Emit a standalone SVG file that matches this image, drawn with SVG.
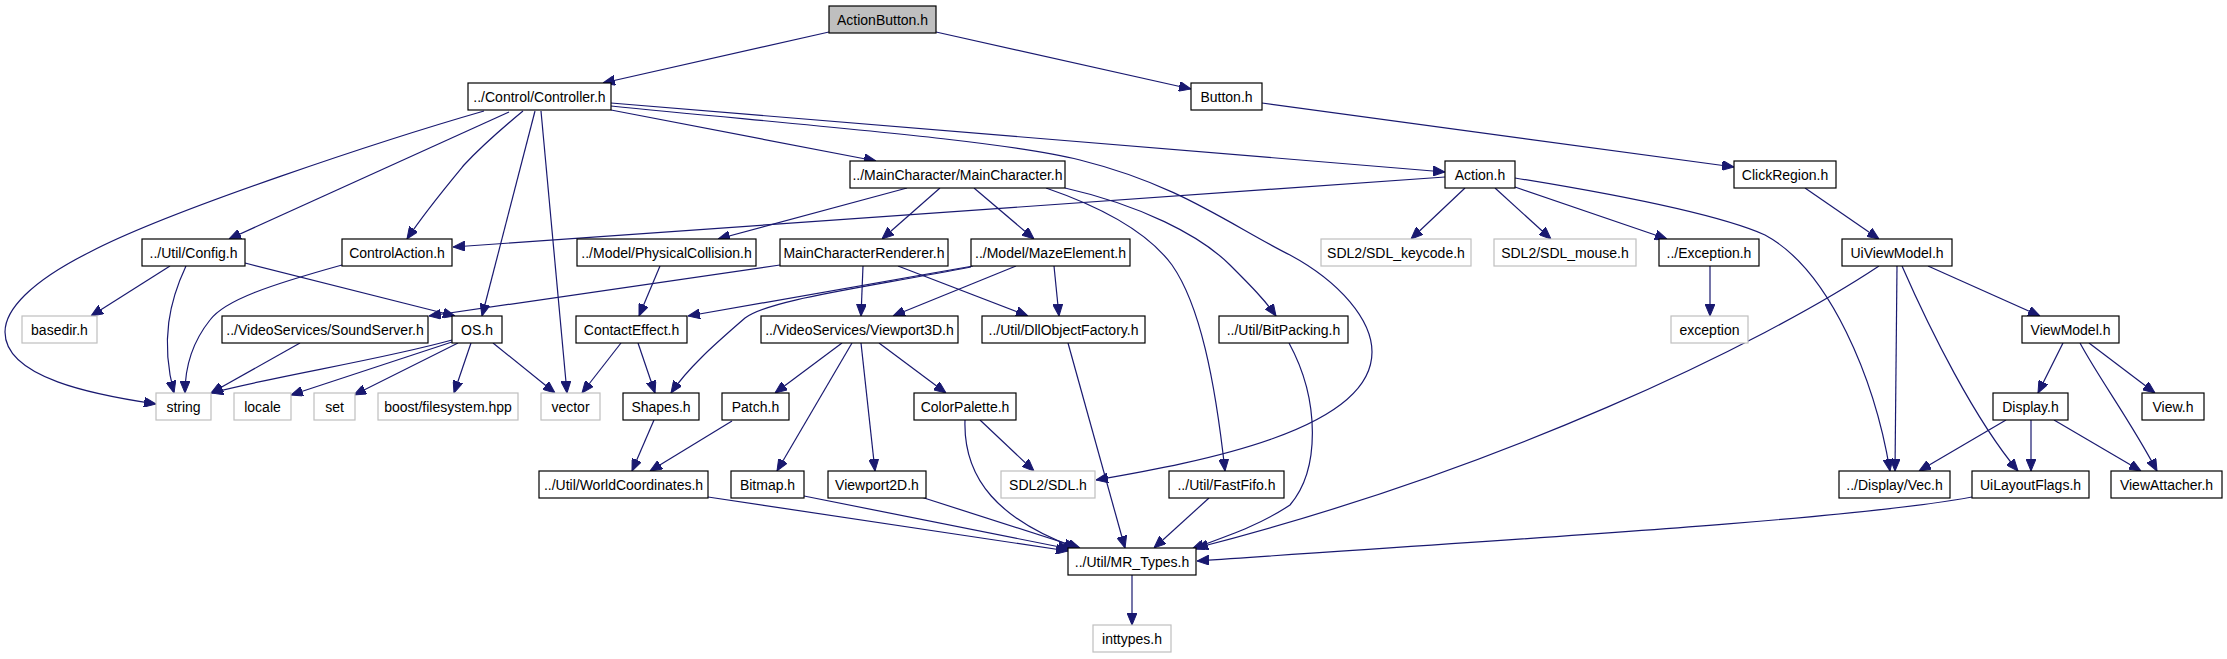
<svg xmlns="http://www.w3.org/2000/svg" width="2227" height="659" viewBox="0 0 2227 659">
<defs>
<marker id="ah" viewBox="0 0 12 10" refX="12" refY="5" markerWidth="12" markerHeight="10" orient="auto" markerUnits="userSpaceOnUse"><path d="M0,0 L12,5 L0,10 z" fill="#191970" stroke="#191970" stroke-width="1"/></marker>
<style>
rect{fill:#fff;stroke:#000;stroke-width:1.2}
.g rect{stroke:#bfbfbf}
.r rect{fill:#bfbfbf}
text{font-family:"Liberation Sans",Arial,sans-serif;font-size:14px;fill:#000;text-anchor:middle}
#edges path{fill:none;stroke:#191970;stroke-width:1.2;marker-end:url(#ah)}
</style>
</defs>
<rect x="0" y="0" width="2227" height="659" style="fill:#fff;stroke:none"/>
<g id="edges">
<path d="M829,32 L603,83"/>
<path d="M936,32 L1191,89"/>
<path d="M484,111 C390,138 170,210 90,252 C30,282 5,310 5,332 C5,378 95,395 156,404"/>
<path d="M509,112 L229,239"/>
<path d="M523,111 C500,130 478,150 464,165 C445,188 425,212 407,239"/>
<path d="M535,111 L482,316"/>
<path d="M541,111 L567,393"/>
<path d="M611,110 L876,161"/>
<path d="M611,103 L1445,172"/>
<path d="M611,106 C800,125 1000,140 1080,160 C1180,185 1230,225 1290,255 C1340,282 1372,320 1372,352 C1372,430 1200,462 1096,480"/>
<path d="M907,188 L718,239"/>
<path d="M940,188 L882,239"/>
<path d="M974,188 L1034,239"/>
<path d="M1065,188 C1140,205 1200,235 1230,265 C1250,285 1265,300 1276,316"/>
<path d="M1046,188 C1110,210 1150,235 1172,265 C1200,305 1215,380 1225,471"/>
<path d="M1445,177 L453,247"/>
<path d="M1465,188 L1411,239"/>
<path d="M1495,188 L1551,239"/>
<path d="M1515,187 L1667,239"/>
<path d="M1515,178 C1620,195 1720,215 1765,235 C1830,270 1875,380 1890,471"/>
<path d="M1262,103 L1734,167"/>
<path d="M1805,188 L1879,239"/>
<path d="M1879,266 C1760,345 1500,470 1196,548"/>
<path d="M1897,266 L1895,471"/>
<path d="M1902,266 C1930,330 1975,420 2018,471"/>
<path d="M1928,266 L2040,316"/>
<path d="M2063,343 L2038,393"/>
<path d="M2089,343 L2155,393"/>
<path d="M2080,343 C2100,380 2130,420 2157,471"/>
<path d="M2006,420 L1919,471"/>
<path d="M2031,420 L2031,471"/>
<path d="M2054,420 L2141,471"/>
<path d="M1972,497 C1850,520 1500,540 1197,561"/>
<path d="M1710,266 L1710,316"/>
<path d="M170,266 L91,316"/>
<path d="M186,266 C170,300 160,340 174,393"/>
<path d="M245,263 L455,316"/>
<path d="M342,265 C270,285 225,300 210,320 C190,345 185,370 185,393"/>
<path d="M300,343 L211,393"/>
<path d="M780,265 L429,316"/>
<path d="M863,266 L861,316"/>
<path d="M898,266 L1028,316"/>
<path d="M973,266 L688,316"/>
<path d="M971,267 C850,290 770,300 745,318 C720,340 690,365 671,393"/>
<path d="M1016,266 L893,316"/>
<path d="M1054,266 L1059,316"/>
<path d="M660,266 L639,316"/>
<path d="M452,340 C380,360 280,375 211,393"/>
<path d="M452,342 L291,395"/>
<path d="M458,343 L354,395"/>
<path d="M471,343 L454,393"/>
<path d="M493,343 L555,393"/>
<path d="M621,343 L582,393"/>
<path d="M638,343 L655,393"/>
<path d="M842,343 L775,393"/>
<path d="M852,343 L777,471"/>
<path d="M861,343 L875,471"/>
<path d="M879,343 L946,393"/>
<path d="M1068,343 L1125,548"/>
<path d="M1289,343 C1320,400 1320,470 1290,505 C1260,525 1230,535 1192,549"/>
<path d="M1209,498 L1154,548"/>
<path d="M980,420 L1034,471"/>
<path d="M965,420 C963,480 1000,520 1076,548"/>
<path d="M708,497 L1068,551"/>
<path d="M804,496 L1070,549"/>
<path d="M921,497 L1080,548"/>
<path d="M654,420 L632,471"/>
<path d="M732,421 L650,471"/>
<path d="M1132,575 L1132,625"/>
</g>
<g id="n_root" class="r"><rect x="829" y="6" width="107" height="27"/><text x="882.5" y="24.5">ActionButton.h</text></g>
<g id="n_controller"><rect x="468" y="83" width="143" height="27"/><text x="539.5" y="101.5">../Control/Controller.h</text></g>
<g id="n_button"><rect x="1191" y="83" width="71" height="27"/><text x="1226.5" y="101.5">Button.h</text></g>
<g id="n_mainchar"><rect x="850" y="161" width="215" height="27"/><text x="957.5" y="179.5">../MainCharacter/MainCharacter.h</text></g>
<g id="n_action"><rect x="1445" y="161" width="70" height="27"/><text x="1480" y="179.5">Action.h</text></g>
<g id="n_clickregion"><rect x="1734" y="161" width="102" height="27"/><text x="1785" y="179.5">ClickRegion.h</text></g>
<g id="n_config"><rect x="142" y="239" width="103" height="27"/><text x="193.5" y="257.5">../Util/Config.h</text></g>
<g id="n_controlaction"><rect x="342" y="239" width="110" height="27"/><text x="397" y="257.5">ControlAction.h</text></g>
<g id="n_physcoll"><rect x="577" y="239" width="179" height="27"/><text x="666.5" y="257.5">../Model/PhysicalCollision.h</text></g>
<g id="n_mcrenderer"><rect x="780" y="239" width="168" height="27"/><text x="864" y="257.5">MainCharacterRenderer.h</text></g>
<g id="n_maze"><rect x="971" y="239" width="159" height="27"/><text x="1050.5" y="257.5">../Model/MazeElement.h</text></g>
<g id="n_keycode" class="g"><rect x="1321" y="239" width="150" height="27"/><text x="1396" y="257.5">SDL2/SDL_keycode.h</text></g>
<g id="n_mouse" class="g"><rect x="1494" y="239" width="142" height="27"/><text x="1565" y="257.5">SDL2/SDL_mouse.h</text></g>
<g id="n_exception_h"><rect x="1659" y="239" width="100" height="27"/><text x="1709" y="257.5">../Exception.h</text></g>
<g id="n_uiviewmodel"><rect x="1842" y="239" width="110" height="27"/><text x="1897" y="257.5">UiViewModel.h</text></g>
<g id="n_basedir" class="g"><rect x="22" y="316" width="75" height="27"/><text x="59.5" y="334.5">basedir.h</text></g>
<g id="n_soundserver"><rect x="222" y="316" width="206" height="27"/><text x="325" y="334.5">../VideoServices/SoundServer.h</text></g>
<g id="n_os"><rect x="452" y="316" width="50" height="27"/><text x="477" y="334.5">OS.h</text></g>
<g id="n_contact"><rect x="576" y="316" width="111" height="27"/><text x="631.5" y="334.5">ContactEffect.h</text></g>
<g id="n_viewport3d"><rect x="761" y="316" width="197" height="27"/><text x="859.5" y="334.5">../VideoServices/Viewport3D.h</text></g>
<g id="n_dllfactory"><rect x="982" y="316" width="163" height="27"/><text x="1063.5" y="334.5">../Util/DllObjectFactory.h</text></g>
<g id="n_bitpacking"><rect x="1219" y="316" width="129" height="27"/><text x="1283.5" y="334.5">../Util/BitPacking.h</text></g>
<g id="n_exception" class="g"><rect x="1671" y="316" width="77" height="27"/><text x="1709.5" y="334.5">exception</text></g>
<g id="n_viewmodel"><rect x="2022" y="316" width="97" height="27"/><text x="2070.5" y="334.5">ViewModel.h</text></g>
<g id="n_string" class="g"><rect x="156" y="393" width="55" height="27"/><text x="183.5" y="411.5">string</text></g>
<g id="n_locale" class="g"><rect x="234" y="393" width="57" height="27"/><text x="262.5" y="411.5">locale</text></g>
<g id="n_set" class="g"><rect x="314" y="393" width="41" height="27"/><text x="334.5" y="411.5">set</text></g>
<g id="n_boost" class="g"><rect x="378" y="393" width="140" height="27"/><text x="448" y="411.5">boost/filesystem.hpp</text></g>
<g id="n_vector" class="g"><rect x="541" y="393" width="59" height="27"/><text x="570.5" y="411.5">vector</text></g>
<g id="n_shapes"><rect x="623" y="393" width="76" height="27"/><text x="661" y="411.5">Shapes.h</text></g>
<g id="n_patch"><rect x="722" y="393" width="67" height="27"/><text x="755.5" y="411.5">Patch.h</text></g>
<g id="n_colorpalette"><rect x="914" y="393" width="102" height="27"/><text x="965" y="411.5">ColorPalette.h</text></g>
<g id="n_display"><rect x="1993" y="393" width="75" height="27"/><text x="2030.5" y="411.5">Display.h</text></g>
<g id="n_view"><rect x="2142" y="393" width="62" height="27"/><text x="2173" y="411.5">View.h</text></g>
<g id="n_worldcoord"><rect x="539" y="471" width="169" height="27"/><text x="623.5" y="489.5">../Util/WorldCoordinates.h</text></g>
<g id="n_bitmap"><rect x="731" y="471" width="73" height="27"/><text x="767.5" y="489.5">Bitmap.h</text></g>
<g id="n_viewport2d"><rect x="828" y="471" width="98" height="27"/><text x="877" y="489.5">Viewport2D.h</text></g>
<g id="n_sdl" class="g"><rect x="1001" y="471" width="94" height="27"/><text x="1048" y="489.5">SDL2/SDL.h</text></g>
<g id="n_fastfifo"><rect x="1169" y="471" width="115" height="27"/><text x="1226.5" y="489.5">../Util/FastFifo.h</text></g>
<g id="n_vec"><rect x="1839" y="471" width="111" height="27"/><text x="1894.5" y="489.5">../Display/Vec.h</text></g>
<g id="n_uilayout"><rect x="1972" y="471" width="117" height="27"/><text x="2030.5" y="489.5">UiLayoutFlags.h</text></g>
<g id="n_viewattacher"><rect x="2111" y="471" width="111" height="27"/><text x="2166.5" y="489.5">ViewAttacher.h</text></g>
<g id="n_mrtypes"><rect x="1068" y="548" width="128" height="27"/><text x="1132" y="566.5">../Util/MR_Types.h</text></g>
<g id="n_inttypes" class="g"><rect x="1093" y="625" width="78" height="27"/><text x="1132" y="643.5">inttypes.h</text></g>
</svg>
